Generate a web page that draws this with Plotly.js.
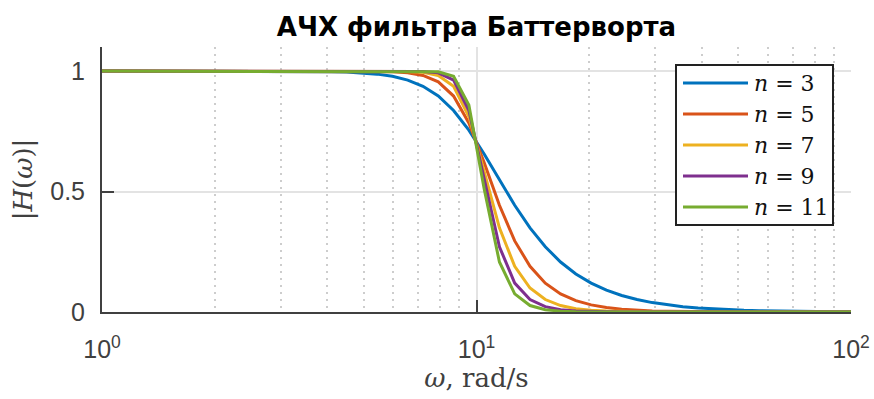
<!DOCTYPE html>
<html>
<head>
<meta charset="utf-8">
<script src="https://cdn.plot.ly/plotly-3.0.1.min.js"></script>
<style>html,body{margin:0;padding:0;background:#fff;}#chart{width:874px;height:399px;}</style>
</head>
<body>
<div id="chart"></div>
<script>
// ---- data (50 log-spaced frequency samples) ----
const omega = [1.0000,1.0985,1.2068,1.3257,1.4563,1.5998,1.7575,1.9307,2.1209,2.3299,
               2.5595,2.8118,3.0888,3.3932,3.7276,4.0949,4.4984,4.9417,5.4287,5.9636,
               6.5513,7.1969,7.9061,8.6852,9.5410,10.4811,11.5140,12.6486,13.8950,15.2642,
               16.7683,18.4207,20.2359,22.2300,24.4205,26.8270,29.4705,32.3746,35.5648,39.0694,
               42.9193,47.1487,51.7947,56.8987,62.5055,68.6649,75.4312,82.8643,91.0298,100.0000];
const H_n3  = [1.0000,1.0000,1.0000,1.0000,1.0000,1.0000,1.0000,1.0000,1.0000,0.9999,
               0.9999,0.9998,0.9996,0.9992,0.9987,0.9977,0.9959,0.9928,0.9874,0.9782,
               0.9627,0.9370,0.8965,0.8365,0.7550,0.6557,0.5480,0.4430,0.3493,0.2707,
               0.2075,0.1580,0.1198,0.0907,0.0685,0.0517,0.0390,0.0295,0.0222,0.0168,
               0.0126,0.0095,0.0072,0.0054,0.0041,0.0031,0.0023,0.0018,0.0013,0.0010];
const H_n5  = [1.0000,1.0000,1.0000,1.0000,1.0000,1.0000,1.0000,1.0000,1.0000,1.0000,
               1.0000,1.0000,1.0000,1.0000,1.0000,0.9999,0.9998,0.9996,0.9989,0.9972,
               0.9928,0.9819,0.9555,0.8965,0.7845,0.6202,0.4430,0.2951,0.1896,0.1198,
               0.0752,0.0471,0.0295,0.0184,0.0115,0.0072,0.0045,0.0028,0.0018,0.0011,
               0.0007,0.0004,0.0003,0.0002,0.0001,0.0001,0.0000,0.0000,0.0000,0.0000];
const H_n7  = [1.0000,1.0000,1.0000,1.0000,1.0000,1.0000,1.0000,1.0000,1.0000,1.0000,
               1.0000,1.0000,1.0000,1.0000,1.0000,1.0000,1.0000,1.0000,0.9999,0.9996,
               0.9987,0.9950,0.9819,0.9370,0.8117,0.5841,0.3493,0.1896,0.0995,0.0517,
               0.0268,0.0139,0.0072,0.0037,0.0019,0.0010,0.0005,0.0003,0.0001,0.0001,
               0.0000,0.0000,0.0000,0.0000,0.0000,0.0000,0.0000,0.0000,0.0000,0.0000];
const H_n9  = [1.0000,1.0000,1.0000,1.0000,1.0000,1.0000,1.0000,1.0000,1.0000,1.0000,
               1.0000,1.0000,1.0000,1.0000,1.0000,1.0000,1.0000,1.0000,1.0000,1.0000,
               0.9998,0.9987,0.9928,0.9627,0.8365,0.5480,0.2707,0.1198,0.0517,0.0222,
               0.0095,0.0041,0.0018,0.0008,0.0003,0.0001,0.0000,0.0000,0.0000,0.0000,
               0.0000,0.0000,0.0000,0.0000,0.0000,0.0000,0.0000,0.0000,0.0000,0.0000];
const H_n11 = [1.0000,1.0000,1.0000,1.0000,1.0000,1.0000,1.0000,1.0000,1.0000,1.0000,
               1.0000,1.0000,1.0000,1.0000,1.0000,1.0000,1.0000,1.0000,1.0000,1.0000,
               1.0000,0.9996,0.9972,0.9782,0.8589,0.5122,0.2075,0.0752,0.0268,0.0095,
               0.0035,0.0012,0.0004,0.0002,0.0001,0.0000,0.0000,0.0000,0.0000,0.0000,
               0.0000,0.0000,0.0000,0.0000,0.0000,0.0000,0.0000,0.0000,0.0000,0.0000];
const seriesNames = ['3','5','7','9','11'];
const seriesValues = [H_n3, H_n5, H_n7, H_n9, H_n11];
const seriesColors = ['#0072BD','#D95319','#EDB120','#7E2F8E','#77AC30'];
const xTickVals = [1, 10, 100];
const xTickText = ['10<sup>0</sup>','10<sup>1</sup>','10<sup>2</sup>'];
const xMinorVals = [2,3,4,5,6,7,8,9,20,30,40,50,60,70,80,90];
const yTickVals = [0, 0.5, 1];
const yTickText = ['0','0.5','1'];
const titleText = 'АЧХ фильтра Баттерворта';
const xTitle = '<i>ω</i>, rad/s';
const yTitle = '|<i>H</i>(<i>ω</i>)|';

// ---- layout geometry ----
const W = 874, Hgt = 399;
const M = {l:102, r:23, t:47, b:87};
const pw = W - M.l - M.r, ph = Hgt - M.t - M.b;
const px = x => (x - M.l) / pw;
const py = y => (Hgt - M.b - y) / ph;

const axisColor = '#404040';
const traces = seriesValues.map((vals, i) => ({
  type: 'scatter', mode: 'lines', x: omega, y: vals,
  name: 'n = ' + seriesNames[i],
  line: {color: seriesColors[i], width: 3},
  hoverinfo: 'skip', showlegend: false
}));

// manual legend (long line samples like the reference)
const shapes = [{
  type: 'rect', xref: 'paper', yref: 'paper',
  x0: px(676), x1: px(833), y0: py(225), y1: py(65),
  line: {color: '#222', width: 2}, fillcolor: '#fff', layer: 'above'
}];
const annotations = [];
const rowY0 = 83, rowDy = 31;
seriesNames.forEach((nm, i) => {
  const yy = rowY0 + i * rowDy;
  shapes.push({type: 'line', xref: 'paper', yref: 'paper',
    x0: px(683), x1: px(748), y0: py(yy), y1: py(yy),
    line: {color: seriesColors[i], width: 3}, layer: 'above'});
  annotations.push({xref: 'paper', yref: 'paper', x: px(752), y: py(yy),
    xanchor: 'left', yanchor: 'middle', showarrow: false,
    text: '<i>n</i> = ' + nm,
    font: {family: 'DejaVu Serif', size: 22, color: '#111'}});
});

const layout = {
  width: W, height: Hgt, margin: M,
  paper_bgcolor: '#fff', plot_bgcolor: '#fff',
  showlegend: false,
  title: {text: titleText, x: 0.5, xref: 'paper', xanchor: 'center', y: 1 - 27/Hgt, yref: 'container', yanchor: 'middle',
          font: {family: 'DejaVu Sans', size: 26, color: '#000', weight: 'bold'}},
  xaxis: {
    type: 'log', range: [0, 2], tickmode: 'array', tickvals: xTickVals, ticktext: xTickText,
    ticks: 'inside', ticklen: 12, tickwidth: 2, tickcolor: axisColor,
    showline: true, linecolor: axisColor, linewidth: 2, mirror: false, zeroline: false,
    showgrid: true, gridcolor: '#e3e3e3', gridwidth: 2,
    minor: {tickmode: 'array', tickvals: xMinorVals, showgrid: true, gridcolor: '#cdcdcd', gridwidth: 2, griddash: '2px,5px', ticks: ''},
    tickfont: {family: 'Liberation Sans', size: 25, color: axisColor},
    ticklabelstandoff: 14,
    layer: 'below traces',
    title: {text: xTitle, standoff: 5, font: {family: 'DejaVu Serif', size: 26, color: axisColor}}
  },
  yaxis: {
    range: [0, 1.1], tickmode: 'array', tickvals: yTickVals, ticktext: yTickText,
    ticks: 'inside', ticklen: 12, tickwidth: 2, tickcolor: axisColor,
    showline: true, linecolor: axisColor, linewidth: 2, mirror: false, zeroline: false,
    showgrid: true, gridcolor: '#e3e3e3', gridwidth: 2,
    tickfont: {family: 'Liberation Sans', size: 25, color: axisColor},
    ticklabelstandoff: 10,
    layer: 'below traces',
    title: {text: yTitle, standoff: 10, font: {family: 'DejaVu Serif', size: 26, color: axisColor}}
  },
  shapes: shapes,
  annotations: annotations
};

Plotly.newPlot('chart', traces, layout, {staticPlot: true, displayModeBar: false});
</script>
</body>
</html>
